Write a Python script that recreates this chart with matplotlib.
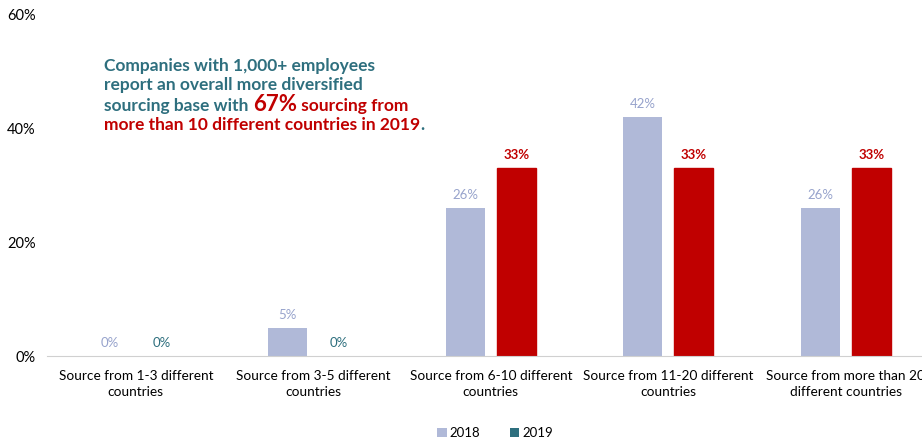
import matplotlib.pyplot as plt
import numpy as np

plt.rcParams['font.family'] = ['Lato', 'DejaVu Sans']

categories = ['Source from 1-3 different\ncountries',
              'Source from 3-5 different\ncountries',
              'Source from 6-10 different\ncountries',
              'Source from 11-20 different\ncountries',
              'Source from more than 20\ndifferent countries']
vals_2018 = [0, 5, 26, 42, 26]
vals_2019 = [0, 0, 33, 33, 33]

c18 = '#B0B9D8'
c19 = '#2E6F7E'
red = '#C00000'
lab18 = '#97A3CC'

fig = plt.figure(figsize=(9.22, 4.41), dpi=100)
ax = fig.add_axes([0.051, 0.1927, 0.9626, 0.7755])

x = np.arange(len(categories))
w = 0.22
off = 0.144
ax.bar(x - off, vals_2018, w, color=c18, label='2018')
bars19 = ax.bar(x + off, vals_2019, w, color=c19, label='2019')
for b, v in zip(bars19, vals_2019):
    if v > 0:
        b.set_color(red)

for xi, v in zip(x, vals_2018):
    ax.text(xi - off, v + 1.2, f'{v}%', ha='center', va='bottom', color=lab18, fontsize=9.5)
for xi, v in zip(x, vals_2019):
    if v > 0:
        ax.text(xi + off, v + 1.2, f'{v}%', ha='center', va='bottom', color=red,
                fontsize=9.5, fontweight='bold')
    else:
        ax.text(xi + off, v + 1.2, f'{v}%', ha='center', va='bottom', color=c19, fontsize=9.5)

ax.set_xlim(-0.5, 4.5)
ax.set_ylim(0, 60)
ax.set_yticks([0, 20, 40, 60])
ax.set_yticklabels(['0%', '20%', '40%', '60%'])
ax.set_xticks(x)
for s in ['top', 'right', 'left']:
    ax.spines[s].set_visible(False)
ax.spines['bottom'].set_color('#D0D0D0')
ax.tick_params(axis='both', length=0, labelsize=10.5)
ax.tick_params(axis='y', pad=8)
ax.tick_params(axis='x', pad=10)
ax.set_xticklabels(categories, fontsize=9.8, linespacing=1.4)

# annotation with mixed colours
lines = [
    [('Companies with 1,000+ employees', c19, 12.5)],
    [('report an overall more diversified', c19, 12.5)],
    [('sourcing base with ', c19, 12.5), ('67%', red, 16), (' sourcing from', red, 12.5)],
    [('more than 10 different countries in 2019', red, 12.5), ('.', c19, 12.5)],
]
line_y = [0.838, 0.795, 0.749, 0.706]
fig.canvas.draw()
renderer = fig.canvas.get_renderer()
for parts, yy in zip(lines, line_y):
    xx = 104 / 922
    for txt, col, fs in parts:
        t = fig.text(xx, yy, txt, color=col, fontsize=fs, fontweight='bold', va='baseline')
        bb = t.get_window_extent(renderer=renderer)
        xx += bb.width / fig.bbox.width

fig.legend(loc='lower center', bbox_to_anchor=(0.537, -0.022), ncol=2, frameon=False,
           fontsize=9.5, handlelength=0.7, handleheight=0.7, columnspacing=2.2, handletextpad=0.25)

fig.savefig('out.png', dpi=100)
